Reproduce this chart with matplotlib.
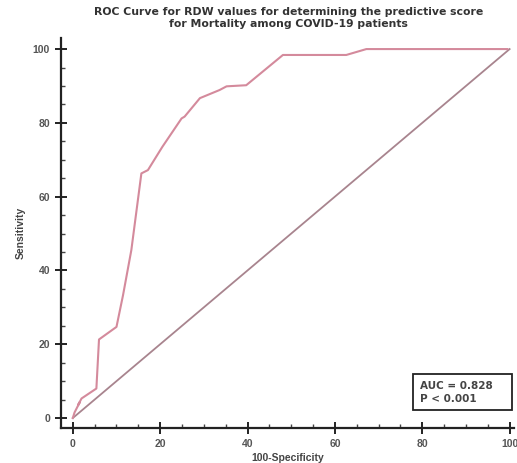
import matplotlib
matplotlib.use('agg')
import matplotlib.pyplot as plt
from matplotlib.ticker import MultipleLocator
from matplotlib.patches import Rectangle

# ROC points (100-Specificity, Sensitivity)
fpr = [0, 0.4, 1.6, 1.2, 2.0, 5.4, 6.0, 10.0, 11.5, 13.4, 15.7, 17.2, 20.5,
       24.9, 25.6, 29.1, 33.6, 35.2, 39.7, 48.1, 62.6, 67.2, 99.5]
tpr = [0, 1.5, 4.3, 3.5, 5.3, 8.0, 21.3, 24.7, 33.3, 45.5, 66.3, 67.2, 73.5,
       81.2, 81.7, 86.7, 88.9, 89.9, 90.2, 98.4, 98.4, 100, 100]
ref_x = [0, 100]
ref_y = [0, 100]
auc_txt = 'AUC = 0.828\nP < 0.001'
title = ('ROC Curve for RDW values for determining the predictive score\n'
         'for Mortality among COVID-19 patients')

plt.rcParams['font.family'] = ['Liberation Sans', 'DejaVu Sans']

fig = plt.figure(figsize=(5.17, 4.63), dpi=100)
ax = fig.add_axes([61/517, 35/463, 453/517, 390/463])

ax.plot(ref_x, ref_y, color='#a8848e', lw=1.3)
ax.plot(fpr, tpr, color='#d48a9c', lw=1.5)

ax.set_xlim(-2.7, 101)
ax.set_ylim(-2.7, 103)
for s in ['top', 'right']:
    ax.spines[s].set_visible(False)
for s in ['left', 'bottom']:
    ax.spines[s].set_linewidth(1.6)
    ax.spines[s].set_color('#222222')

ax.xaxis.set_major_locator(MultipleLocator(20))
ax.yaxis.set_major_locator(MultipleLocator(20))
ax.xaxis.set_minor_locator(MultipleLocator(5))
ax.yaxis.set_minor_locator(MultipleLocator(5))
ax.tick_params(which='major', direction='inout', length=8, width=1.4,
               colors='#222222', labelsize=7.5, labelcolor='#555555', pad=4)
ax.tick_params(which='minor', direction='in', length=3, width=1.0, colors='#444444')
for lab in ax.get_xticklabels() + ax.get_yticklabels():
    lab.set_fontweight('bold')

ax.set_xlabel('100-Specificity', fontsize=7.5, fontweight='bold', color='#444444', labelpad=3)
ax.set_ylabel('Sensitivity', fontsize=7.5, fontweight='bold', color='#444444', labelpad=5)
fig.text(0.558, 0.985, title, ha='center', va='top', fontsize=7.8,
         fontweight='bold', color='#333333', linespacing=1.25,
         family=['DejaVu Sans'])

# AUC box
ax.add_patch(Rectangle((0.777, 0.046), 0.219, 0.092, transform=ax.transAxes,
                       fc='white', ec='#222222', lw=1.3, zorder=5))
ax.text(0.792, 0.092, auc_txt, transform=ax.transAxes, ha='left', va='center',
        fontsize=7.5, fontweight='bold', color='#444444', linespacing=1.35,
        family=['DejaVu Sans'], zorder=6)

fig.savefig('out.png', dpi=100)
